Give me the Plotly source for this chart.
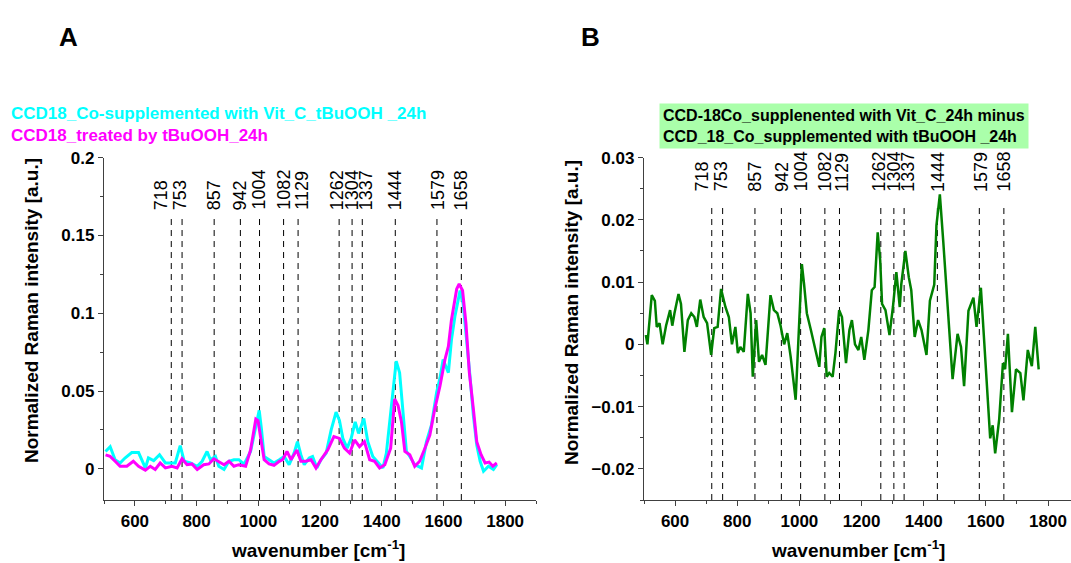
import plotly.graph_objects as go

# ---- data ----
# panel A: CCD18 Co-supplemented with Vit C + tBuOOH (cyan)
cyan_wn = [505, 520, 536, 552, 568, 590, 612, 623, 634, 644,
           661, 680, 699, 715, 731, 747, 760, 780, 802, 818,
           834, 845, 861, 872, 889, 905, 921, 937, 954, 975,
           992, 1003, 1010, 1019, 1035, 1051, 1068, 1084, 1100, 1116,
           1127, 1138, 1149, 1165, 1176, 1190, 1203, 1220, 1236, 1252,
           1263, 1274, 1288, 1301, 1314, 1325, 1342, 1355, 1371, 1388,
           1404, 1415, 1431, 1447, 1458, 1469, 1480, 1491, 1507, 1529,
           1545, 1561, 1578, 1589, 1599, 1616, 1626, 1637, 1654, 1664,
           1675, 1686, 1697, 1708, 1719, 1730, 1746, 1762, 1773]
cyan_int = [0.0112, 0.0143, 0.0059, 0.0038, 0.007, 0.0105, 0.0105, 0.0049, 0.0006, 0.007,
            0.0053, 0.0091, 0.0038, 0.0038, 0.0038, 0.015, 0.0049, 0.0038, 0.0017, 0.0049,
            0.0112, 0.0059, 0.008, 0.0017, -0.0004, 0.0049, 0.0059, 0.0059, 0.003, 0.0112,
            0.028, 0.0376, 0.026, 0.008, 0.0059, 0.0038, 0.0059, 0.008, 0.0027, 0.0101,
            0.0175, 0.0091, 0.0027, 0.007, 0.008, 0.0006, 0.0059, 0.0101, 0.0249, 0.0365,
            0.0312, 0.0196, 0.0133, 0.0196, 0.0302, 0.0228, 0.0323, 0.0175, 0.008, 0.0038,
            0.0006, 0.01, 0.04, 0.0692, 0.0618, 0.0386, 0.0112, 0.008, 0.0027, 0.0006,
            0.0175, 0.028, 0.0492, 0.0586, 0.0703, 0.0618, 0.0829, 0.0977, 0.1146, 0.1061,
            0.085, 0.0597, 0.0344, 0.0154, 0.0049, -0.0015, 0.0017, -0.0004, 0.0027]

# panel A: CCD18 treated by tBuOOH (magenta)
mag_wn = [505, 520, 536, 552, 574, 595, 612, 634, 650, 666,
          682, 699, 720, 737, 753, 769, 785, 802, 823, 840,
          856, 872, 889, 905, 921, 937, 959, 975, 992, 999,
          1010, 1019, 1035, 1051, 1068, 1079, 1093, 1106, 1125, 1138,
          1154, 1171, 1187, 1203, 1225, 1245, 1263, 1279, 1296, 1312,
          1328, 1344, 1361, 1377, 1393, 1410, 1429, 1442, 1453, 1464,
          1475, 1491, 1507, 1523, 1540, 1556, 1572, 1589, 1605, 1616,
          1626, 1635, 1643, 1651, 1662, 1673, 1684, 1697, 1708, 1722,
          1735, 1748, 1760, 1773]
mag_int = [0.009, 0.008, 0.0049, 0.0017, 0.0017, 0.0049, 0.0017, -0.0008, 0.0017, -0.0004,
           0.0038, 0.0006, 0.0017, 0.0006, 0.0065, 0.0027, 0.0032, -0.0004, 0.0027, 0.0032,
           0.0065, 0.0049, 0.0027, 0.0049, 0.0017, 0.0027, 0.0017, 0.0122, 0.032, 0.031,
           0.0175, 0.0059, 0.0032, 0.0023, 0.0049, 0.0059, 0.0112, 0.0059, 0.0122, 0.0049,
           0.0049, 0.0059, 0.0006, 0.0059, 0.0122, 0.0207, 0.0196, 0.0133, 0.0101, 0.0186,
           0.0143, 0.0175, 0.0059, 0.0049, 0.0006, 0.0027, 0.0133, 0.0449, 0.0407, 0.0302,
           0.0112, 0.0091, 0.0017, 0.0049, 0.0133, 0.0217, 0.0386, 0.0534, 0.0703, 0.0787,
           0.0956, 0.1061, 0.1156, 0.1188, 0.1146, 0.0935, 0.0618, 0.0386, 0.0175, 0.0091,
           0.0038, 0.0044, 0.0017, 0.0038]

# panel B: difference spectrum (green)
diff_wn = [506, 511, 525, 535, 541, 550, 560, 571, 584, 591,
           598, 611, 619, 630, 641, 652, 662, 670, 681, 692,
           703, 716, 726, 737, 748, 762, 773, 783, 794, 802,
           810, 821, 834, 843, 850, 861, 870, 880, 891, 907,
           918, 929, 939, 951, 961, 972, 988, 999, 1008, 1015,
           1024, 1037, 1048, 1064, 1071, 1080, 1088, 1096, 1107, 1116,
           1128, 1137, 1150, 1161, 1169, 1179, 1190, 1199, 1209, 1222,
           1233, 1242, 1252, 1260, 1266, 1277, 1290, 1301, 1312, 1323,
           1328, 1341, 1352, 1360, 1371, 1382, 1393, 1409, 1420, 1434,
           1441, 1452, 1463, 1473, 1481, 1493, 1509, 1520, 1530, 1544,
           1560, 1570, 1584, 1597, 1614, 1622, 1630, 1643, 1655, 1662,
           1671, 1684, 1697, 1711, 1721, 1735, 1748, 1759, 1770]
diff_int = [0.0015, 0.0, 0.0079, 0.007, 0.0028, 0.0034, 0.0, 0.003, 0.0055, 0.003,
            0.005, 0.0081, 0.0065, -0.0012, 0.0039, 0.005, 0.0044, 0.0028, 0.0072, 0.0044,
            0.0034, -0.0017, 0.0026, 0.0028, 0.0089, 0.006, 0.0044, 0.0, 0.0028, -0.0014,
            -0.0004, -0.0012, 0.0081, 0.005, -0.0052, 0.0039, -0.0028, -0.0017, -0.0033, 0.0079,
            0.0055, 0.005, 0.0031, 0.0, 0.0018, -0.002, -0.0089, 0.0023, 0.0129, 0.0097,
            0.005, 0.0023, 0.0, -0.0036, 0.0012, 0.0026, -0.0052, -0.0046, -0.0052, -0.0014,
            0.0055, 0.0044, -0.003, 0.0023, 0.0039, 0.0, -0.0009, 0.0012, -0.0025, 0.0023,
            0.0087, 0.0092, 0.018, 0.0135, 0.0065, 0.0055, 0.0015, 0.006, 0.0116, 0.006,
            0.0097, 0.015, 0.0108, 0.0087, 0.0012, 0.0039, 0.0023, -0.0017, 0.007, 0.0096,
            0.0191, 0.0241, 0.0165, 0.0096, 0.0038, -0.0056, 0.0017, -0.0004, -0.0067, 0.0054,
            0.0075, 0.0028, 0.0091, -0.0009, -0.0151, -0.013, -0.0175, -0.012, -0.003, -0.004,
            0.0017, -0.0109, -0.004, -0.0046, -0.009, -0.0009, -0.0035, 0.0028, -0.004]

peaks = [718, 753, 857, 942, 1004, 1082, 1129, 1262, 1304, 1337, 1444, 1579, 1658]

W, H = 1071, 563
FONT = "Liberation Sans, Arial, sans-serif"
AX_COL = "#404040"

# small nudges so the crowded labels don't collide (as in the original)
label_nudge = {718: -10, 753: -2, 1129: 3, 1262: -2, 1337: 4, 1579: 1}


def px_x(p):
    return p / W


def px_y(p):
    return 1 - p / H


fig = go.Figure()

fig.add_trace(go.Scatter(x=cyan_wn, y=cyan_int, mode="lines",
                         line=dict(color="#00FFFF", width=3), xaxis="x", yaxis="y"))
fig.add_trace(go.Scatter(x=mag_wn, y=mag_int, mode="lines",
                         line=dict(color="#FF00FF", width=3), xaxis="x", yaxis="y"))
fig.add_trace(go.Scatter(x=diff_wn, y=diff_int, mode="lines",
                         line=dict(color="#008000", width=2.5), xaxis="x2", yaxis="y2"))

# dashed peak markers + labels
shapes = []
annotations = []
panels = [("x", "y", 0.161, -0.02, 0.165), ("x2", "y2", 0.0224, -0.025, 0.0242)]
for xr, yr, ytop, ybot, ylab in panels:
    for p in peaks:
        shapes.append(dict(type="line", xref=xr, yref=yr, x0=p, x1=p, y0=ybot, y1=ytop,
                           line=dict(color="black", width=1, dash="6px,5px"), layer="below"))
        annotations.append(dict(x=p, y=ylab, xref=xr, yref=yr, text=str(p), textangle=-90,
                                showarrow=False, xanchor="center", yanchor="bottom",
                                xshift=label_nudge.get(p, 0),
                                font=dict(family=FONT, size=18, color="black")))

axis_common = dict(showline=True, linecolor=AX_COL, linewidth=1.3, ticks="outside",
                   ticklen=5, tickcolor=AX_COL, tickwidth=1.3, showgrid=False, zeroline=False,
                   tickfont=dict(family=FONT, size=17, color="black", weight="bold"),
                   minor=dict(ticks="outside", ticklen=3, tickcolor=AX_COL, tickwidth=1.1))

fig.update_layout(
    width=W, height=H,
    margin=dict(l=0, r=0, t=0, b=0),
    paper_bgcolor="white", plot_bgcolor="white",
    showlegend=False,
    xaxis=dict(domain=[px_x(104), px_x(536)], range=[500, 1900], dtick=200,
               tick0=0, anchor="y", minor_dtick=100, **axis_common),
    yaxis=dict(domain=[px_y(499), px_y(151)], range=[-0.02, 0.2], dtick=0.05,
               tick0=0, anchor="x", minor_dtick=0.025, tickformat="~g", **axis_common),
    xaxis2=dict(domain=[px_x(644), 1.0], range=[500, 1874], dtick=200,
                tick0=0, anchor="y2", minor_dtick=100, **axis_common),
    yaxis2=dict(domain=[px_y(499), px_y(151)], range=[-0.025, 0.03], dtick=0.01,
                tick0=0, anchor="x2", minor_dtick=0.005, tickformat="~g", **axis_common),
    shapes=shapes,
)

# panel letters, axis titles, legends
title_font = dict(family=FONT, size=19, color="black", weight="bold")
extra = [
    dict(x=px_x(68), y=px_y(28), text="<b>A</b>", font=dict(family=FONT, size=26, color="black")),
    dict(x=px_x(590), y=px_y(28), text="<b>B</b>", font=dict(family=FONT, size=26, color="black")),
    dict(x=px_x(318), y=px_y(549), text="wavenumber [cm<sup>-1</sup>]", font=title_font),
    dict(x=px_x(858), y=px_y(549), text="wavenumber [cm<sup>-1</sup>]", font=title_font),
    dict(x=px_x(31), y=px_y(307), text="Normalized Raman intensity [a.u.]",
         textangle=-90, font=title_font),
    dict(x=px_x(571), y=px_y(309), text="Normalized Raman intensity [a.u.]",
         textangle=-90, font=title_font),
    dict(x=px_x(9), y=px_y(106), xanchor="left", text="CCD18_Co-supplemented with Vit_C_tBuOOH _24h",
         font=dict(family=FONT, size=17, color="#00FFFF", weight="bold")),
    dict(x=px_x(9), y=px_y(129), xanchor="left", text="CCD18_treated by tBuOOH_24h",
         font=dict(family=FONT, size=17, color="#FF00FF", weight="bold")),
    dict(x=px_x(659), y=px_y(96), xanchor="left", yanchor="top", align="left",
         text="CCD-18Co_supplenented with Vit_C_24h minus<br>CCD_18_Co_supplemented with tBuOOH _24h",
         bgcolor="#AAFFAA", borderpad=3,
         font=dict(family=FONT, size=16, color="black", weight="bold")),
]
for a in extra:
    a.setdefault("xref", "paper")
    a.setdefault("yref", "paper")
    a.setdefault("xanchor", "center")
    a.setdefault("yanchor", "middle")
    a.setdefault("showarrow", False)
    annotations.append(a)

fig.update_layout(annotations=annotations)

# page body has a default 8px margin; drop it so the figure sits at the corner
fig.write_html("out.html", config={"displayModeBar": False},
               post_script="document.body.style.margin='0';")
